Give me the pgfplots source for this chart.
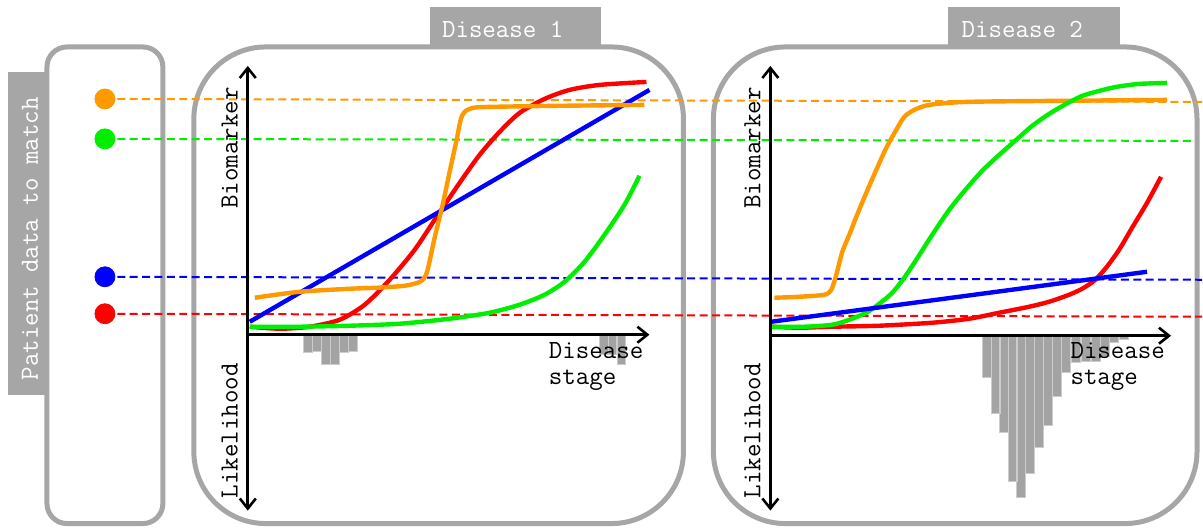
\documentclass[border=0pt]{standalone}
\usepackage{pgfplots}
\pgfplotsset{compat=1.18}
\usetikzlibrary{arrows.meta}

\definecolor{cOrange}{RGB}{255,153,0}
\definecolor{cGreen}{RGB}{0,238,0}
\definecolor{cBlue}{RGB}{0,0,255}
\definecolor{cRed}{RGB}{255,0,0}
\definecolor{frame}{RGB}{166,166,166}
\definecolor{bars}{RGB}{163,163,163}

\begin{document}
\begin{tikzpicture}[font=\ttfamily\fontsize{13.1bp}{13bp}\selectfont]
\begin{axis}[
  width=601.5bp, height=264bp, scale only axis,
  xmin=0, xmax=1203, ymin=-192, ymax=336,
  axis lines=none, ticks=none, clip=false,
  % points are given in picture pixels, y measured downwards
  y filter/.expression={336-y},
  curve/.style={line width=2.2bp, smooth, tension=0.45},
  level/.style={line width=1bp, dash pattern=on 4bp off 2.2bp},
  dot/.style={only marks, mark=*, mark size=5bp},
  hist/.style={ybar, bar shift=0pt, fill=bars, draw=bars!55!white, line width=0.4bp},
  ax/.style={black, line width=1.3bp},
]
% keep the whole canvas in the bounding box
\path (axis cs:0,336) rectangle (axis cs:1203,-192);

% frames
\draw[frame, line width=2.5bp, rounded corners=10bp, fill=white] (axis cs:47,289) rectangle (axis cs:163,-188);
\draw[frame, line width=2.5bp, rounded corners=36bp, fill=white] (axis cs:194,289) rectangle (axis cs:684,-188);
\draw[frame, line width=2.5bp, rounded corners=36bp, fill=white] (axis cs:714,289) rectangle (axis cs:1198,-188);
\fill[frame] (axis cs:8,264) rectangle (axis cs:46,-59);
\fill[frame] (axis cs:430,329) rectangle (axis cs:601,289);
\fill[frame] (axis cs:949,329) rectangle (axis cs:1121,289);
\node[white, rotate=90] at (axis cs:30,97) {Patient data to match};
\node[white, anchor=west, inner sep=0pt] at (axis cs:442,307) {Disease 1};
\node[white, anchor=west, inner sep=0pt] at (axis cs:962,307) {Disease 2};

% likelihood histograms
\addplot[hist, bar width=8.8] coordinates {(308.5,353)(317,352)(326,365)(335,365)(344,353)(353,352)(604,355)(613,355)(622,365)};
\addplot[hist, bar width=8.8] coordinates {(988,378)(997,414)(1005,433)(1014,482)(1022,498)(1031,474)(1040,448)(1049,426)(1058,397)(1067,373)(1077,363)(1087,362)(1097,362)(1106,357)(1115,343)(1125,340)};

% patient levels
\addplot[level, cOrange] coordinates {(105,99)(1203,102)};
\addplot[level, cGreen] coordinates {(105,139)(1193,141)};
\addplot[level, cBlue] coordinates {(105,277)(1203,280)};
\addplot[level, cRed] coordinates {(105,314)(1203,317)};
\addplot[dot, cOrange] coordinates {(105,99)};
\addplot[dot, cGreen] coordinates {(105,139)};
\addplot[dot, cBlue] coordinates {(105,277)};
\addplot[dot, cRed] coordinates {(105,314)};

% disease 1 trajectories
\addplot[curve, cRed] coordinates {(250,327)(280,329)(310,327)(340,320)(365,305)(390,280)(415,250)(437,217)(460,183)(480,155)(500,132)(520,113)(545,99)(570,90)(600,85)(647,82)};
\addplot[curve, cGreen] coordinates {(250,327)(300,327)(350,326)(400,324)(450,319)(490,313)(520,305)(545,295)(565,282)(585,262)(605,235)(625,205)(640,176)};
\addplot[curve, cBlue, sharp plot] coordinates {(250,322)(650,90)};
\addplot[curve, cOrange] coordinates {(255,298)(300,292)(350,289)(377,288)(405,286)(418,283)(424,279)(428,270)(435,238)(443,205)(450,172)(457,140)(461,120)(465,112)(473,108)(490,107)(550,106)(645,105)};

% disease 2 trajectories
\addplot[curve, cOrange] coordinates {(775,298)(800,297)(825,295)(832,290)(837,275)(843,252)(850,235)(857,217)(867,193)(877,170)(887,148)(897,130)(905,117)(915,110)(930,105)(967,102)(1050,101)(1168,100)};
\addplot[curve, cRed] coordinates {(772,327)(800,328)(833,327)(880,326)(933,323)(970,319)(1000,313)(1030,307)(1050,302)(1070,295)(1083,289)(1095,281)(1107,268)(1120,250)(1133,228)(1148,203)(1162,177)};
\addplot[curve, cGreen] coordinates {(772,327)(805,327)(833,325)(850,320)(867,313)(880,304)(893,293)(905,278)(917,260)(933,235)(950,210)(967,189)(983,171)(1000,155)(1017,140)(1033,126)(1050,114)(1067,104)(1083,96)(1100,91)(1117,87)(1140,84)(1168,83)};
\addplot[curve, cBlue, sharp plot] coordinates {(772,322)(1148,272)};

% axes of both panels
\addplot[ax, {Straight Barb[length=5bp,width=8bp]}-{Straight Barb[length=5bp,width=8bp]}] coordinates {(248,511)(248,66)};
\addplot[ax, -{Straight Barb[length=5bp,width=8bp]}] coordinates {(248,335)(650,335)};
\addplot[ax, {Straight Barb[length=5bp,width=8bp]}-{Straight Barb[length=5bp,width=8bp]}] coordinates {(771,511)(771,66)};
\addplot[ax, -{Straight Barb[length=5bp,width=8bp]}] coordinates {(771,336)(1172,336)};

\node[rotate=90] at (axis cs:230,188) {Biomarker};
\node[rotate=90] at (axis cs:230,-95) {Likelihood};
\node[rotate=90] at (axis cs:753,188) {Biomarker};
\node[rotate=90] at (axis cs:753,-95) {Likelihood};
\node[anchor=west, align=left, inner sep=0pt] at (axis cs:549,-31) {Disease\\stage};
\node[anchor=west, align=left, inner sep=0pt] at (axis cs:1071,-31) {Disease\\stage};

\end{axis}
\end{tikzpicture}
\end{document}
